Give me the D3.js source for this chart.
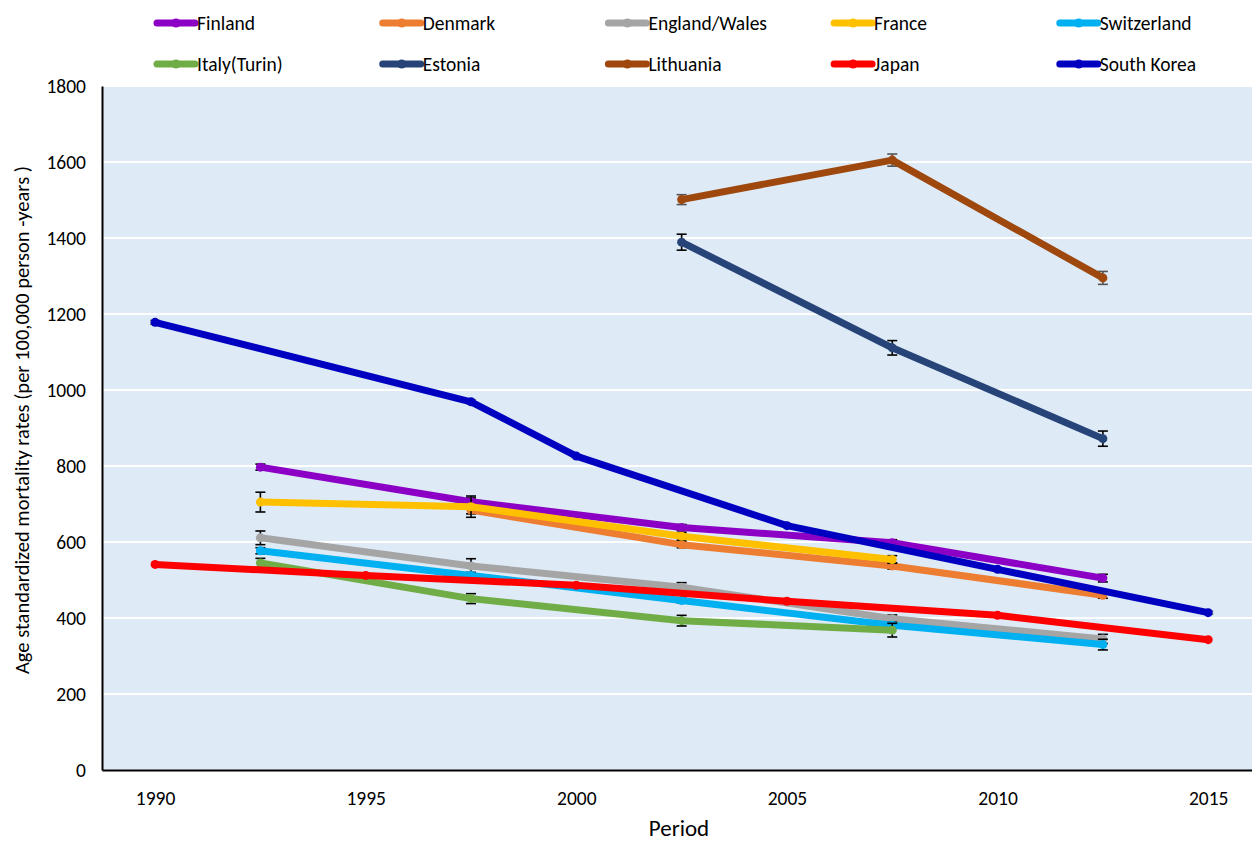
<!DOCTYPE html>
<html>
  <head>
    <script src="https://cdn.jsdelivr.net/npm/d3@7"></script>
    <style>
html, body {
  margin: 0;
  background: #fff;
}
svg {
  display: block;
  font-family: Carlito, Lato, "Liberation Sans", sans-serif;
}
    </style>
  </head>
  <body>
    <div id="chart"></div>
    <script>

// series names, colours and values
var names = ["Finland", "Denmark", "England/Wales", "France", "Switzerland",
             "Italy(Turin)", "Estonia", "Lithuania", "Japan", "South Korea"];
var colors = ["#8B00C4", "#ED7D31", "#A5A5A5", "#FFC000", "#00B0F0",
              "#70AD47", "#264478", "#9E480E", "#FF0000", "#0000C0"];

var finlandYears = [1992.5, 1997.5, 2002.5, 2007.5, 2012.5];
var finland      = [797, 706, 638, 598, 505];
var finlandErr   = [8, 10, 8, 8, 10];

var denmarkYears = [1997.5, 2002.5, 2007.5, 2012.5];
var denmark      = [684, 593, 537, 460];
var denmarkErr   = [10, 8, 8, 8];

var englandYears = [1992.5, 1997.5, 2002.5, 2007.5, 2012.5];
var england      = [611, 537, 481, 398, 345];
var englandErr   = [18, 19, 12, 10, 12];

var franceYears = [1992.5, 1997.5, 2002.5, 2007.5];
var france      = [705, 693, 615, 554];
var franceErr   = [26, 28, 10, 10];

var swissYears = [1992.5, 1997.5, 2002.5, 2007.5, 2012.5];
var swiss      = [577, 512, 446, 381, 330];
var swissErr   = [8, 8, 6, 8, 14];

var italyYears = [1992.5, 1997.5, 2002.5, 2007.5];
var italy      = [545, 451, 393, 368];
var italyErr   = [12, 13, 14, 18];

var estoniaYears = [2002.5, 2007.5, 2012.5];
var estonia      = [1389, 1111, 872];
var estoniaErr   = [21, 19, 20];

var lithuaniaYears = [2002.5, 2007.5, 2012.5];
var lithuania      = [1501, 1605, 1295];
var lithuaniaErr   = [13, 16, 17];

var japanYears = [1990, 1995, 2000, 2005, 2010, 2015];
var japan      = [541, 512, 486, 444, 407, 343];

var koreaYears = [1990, 1997.5, 2000, 2005, 2010, 2015];
var korea      = [1178, 969, 826, 643, 528, 414];
var koreaErr   = [5, 5, 4, 4, 4, 4];

var xTicks = [1990, 1995, 2000, 2005, 2010, 2015];
var yTicks = [0, 200, 400, 600, 800, 1000, 1200, 1400, 1600, 1800];

var yearsList = [finlandYears, denmarkYears, englandYears, franceYears, swissYears,
                 italyYears, estoniaYears, lithuaniaYears, japanYears, koreaYears];
var valuesList = [finland, denmark, england, france, swiss,
                  italy, estonia, lithuania, japan, korea];
var errList = [finlandErr, denmarkErr, englandErr, franceErr, swissErr,
               italyErr, estoniaErr, lithuaniaErr, null, koreaErr];
var errColors = ["#000", "#000", "#000", "#000", "#000",
                 "#000", "#000", "#555", "#000", "#666"];

var series = names.map(function(n, i) {
  return {
    name: n,
    color: colors[i],
    errColor: errColors[i],
    points: yearsList[i].map(function(yr, j) {
      return {x: yr, y: valuesList[i][j], e: errList[i] ? errList[i][j] : 0};
    })
  };
});

var width = 1252, height = 843,
    plotLeft = 102, plotRight = 1252, plotTop = 86, plotBottom = 770;

var svg = d3.select("#chart").append("svg")
    .attr("width", width)
    .attr("height", height);

var x = d3.scaleLinear().domain([1988.74, 2016.04]).range([plotLeft, plotRight]);
var y = d3.scaleLinear().domain([0, 1800]).range([plotBottom, plotTop]);

// plot background
svg.append("rect")
    .attr("x", plotLeft)
    .attr("y", plotTop)
    .attr("width", plotRight - plotLeft)
    .attr("height", plotBottom - plotTop)
    .attr("fill", "#DEEAF6");

// gridlines
svg.append("g").selectAll("line")
    .data(yTicks.slice(1))
  .enter().append("line")
    .attr("x1", plotLeft)
    .attr("x2", plotRight)
    .attr("y1", function(d) { return y(d); })
    .attr("y2", function(d) { return y(d); })
    .attr("stroke", "#fff")
    .attr("stroke-width", 2);

// axes
var yAxis = svg.append("g")
    .attr("transform", "translate(" + plotLeft + ",0)")
    .call(d3.axisLeft(y).tickValues(yTicks).tickFormat(d3.format("d")).tickSize(0).tickPadding(16));
yAxis.select(".domain").attr("stroke", "#000").attr("stroke-width", 2);
yAxis.selectAll("text").attr("font-size", 19.5).attr("fill", "#000")
    .attr("font-family", "Carlito, Lato, sans-serif");

var xAxis = svg.append("g")
    .attr("transform", "translate(0," + plotBottom + ")")
    .call(d3.axisBottom(x).tickValues(xTicks).tickFormat(d3.format("d")).tickSize(0).tickPadding(21));
xAxis.select(".domain").attr("stroke", "#000").attr("stroke-width", 2);
xAxis.selectAll("text").attr("font-size", 19.5).attr("fill", "#000")
    .attr("font-family", "Carlito, Lato, sans-serif");

// axis titles
svg.append("text")
    .attr("x", 679)
    .attr("y", 836)
    .attr("text-anchor", "middle")
    .attr("font-size", 23)
    .text("Period");

svg.append("text")
    .attr("transform", "translate(29,420) rotate(-90)")
    .attr("text-anchor", "middle")
    .attr("font-size", 20.5)
    .text("Age standardized mortality rates (per  100,000  person -years )");

var line = d3.line()
    .x(function(d) { return x(d.x); })
    .y(function(d) { return y(d.y); });

var groups = svg.append("g").selectAll("g.series")
    .data(series)
  .enter().append("g")
    .attr("class", "series");

// error bars
groups.each(function(s) {
  var g = d3.select(this);
  var bars = g.selectAll("g.err")
      .data(s.points.filter(function(p) { return p.e > 0; }))
    .enter().append("g")
      .attr("class", "err")
      .attr("stroke", s.errColor)
      .attr("stroke-width", 1.6);
  bars.append("line")
      .attr("x1", function(p) { return x(p.x); })
      .attr("x2", function(p) { return x(p.x); })
      .attr("y1", function(p) { return y(p.y - p.e); })
      .attr("y2", function(p) { return y(p.y + p.e); });
  bars.append("line")
      .attr("x1", function(p) { return x(p.x) - 5; })
      .attr("x2", function(p) { return x(p.x) + 5; })
      .attr("y1", function(p) { return y(p.y + p.e); })
      .attr("y2", function(p) { return y(p.y + p.e); });
  bars.append("line")
      .attr("x1", function(p) { return x(p.x) - 5; })
      .attr("x2", function(p) { return x(p.x) + 5; })
      .attr("y1", function(p) { return y(p.y - p.e); })
      .attr("y2", function(p) { return y(p.y - p.e); });
});

groups.append("path")
    .attr("d", function(s) { return line(s.points); })
    .attr("fill", "none")
    .attr("stroke", function(s) { return s.color; })
    .attr("stroke-width", 7)
    .attr("stroke-linejoin", "round");

groups.each(function(s) {
  d3.select(this).selectAll("circle")
      .data(s.points)
    .enter().append("circle")
      .attr("cx", function(p) { return x(p.x); })
      .attr("cy", function(p) { return y(p.y); })
      .attr("r", 4.5)
      .attr("fill", s.color);
});

// legend, two rows of five
var legend = svg.append("g").selectAll("g.legend")
    .data(series)
  .enter().append("g")
    .attr("class", "legend")
    .attr("transform", function(s, i) {
      return "translate(" + (157 + (i % 5) * 225.7) + "," + (i < 5 ? 23 : 64) + ")";
    });

legend.append("line")
    .attr("x1", 0)
    .attr("x2", 38)
    .attr("stroke", function(s) { return s.color; })
    .attr("stroke-width", 7)
    .attr("stroke-linecap", "round");

legend.append("circle")
    .attr("cx", 19)
    .attr("r", 4.5)
    .attr("fill", function(s) { return s.color; });

legend.append("text")
    .attr("x", 40)
    .attr("dy", "0.35em")
    .attr("font-size", 19.5)
    .text(function(s) { return s.name; });

    </script>
  </body>
</html>
